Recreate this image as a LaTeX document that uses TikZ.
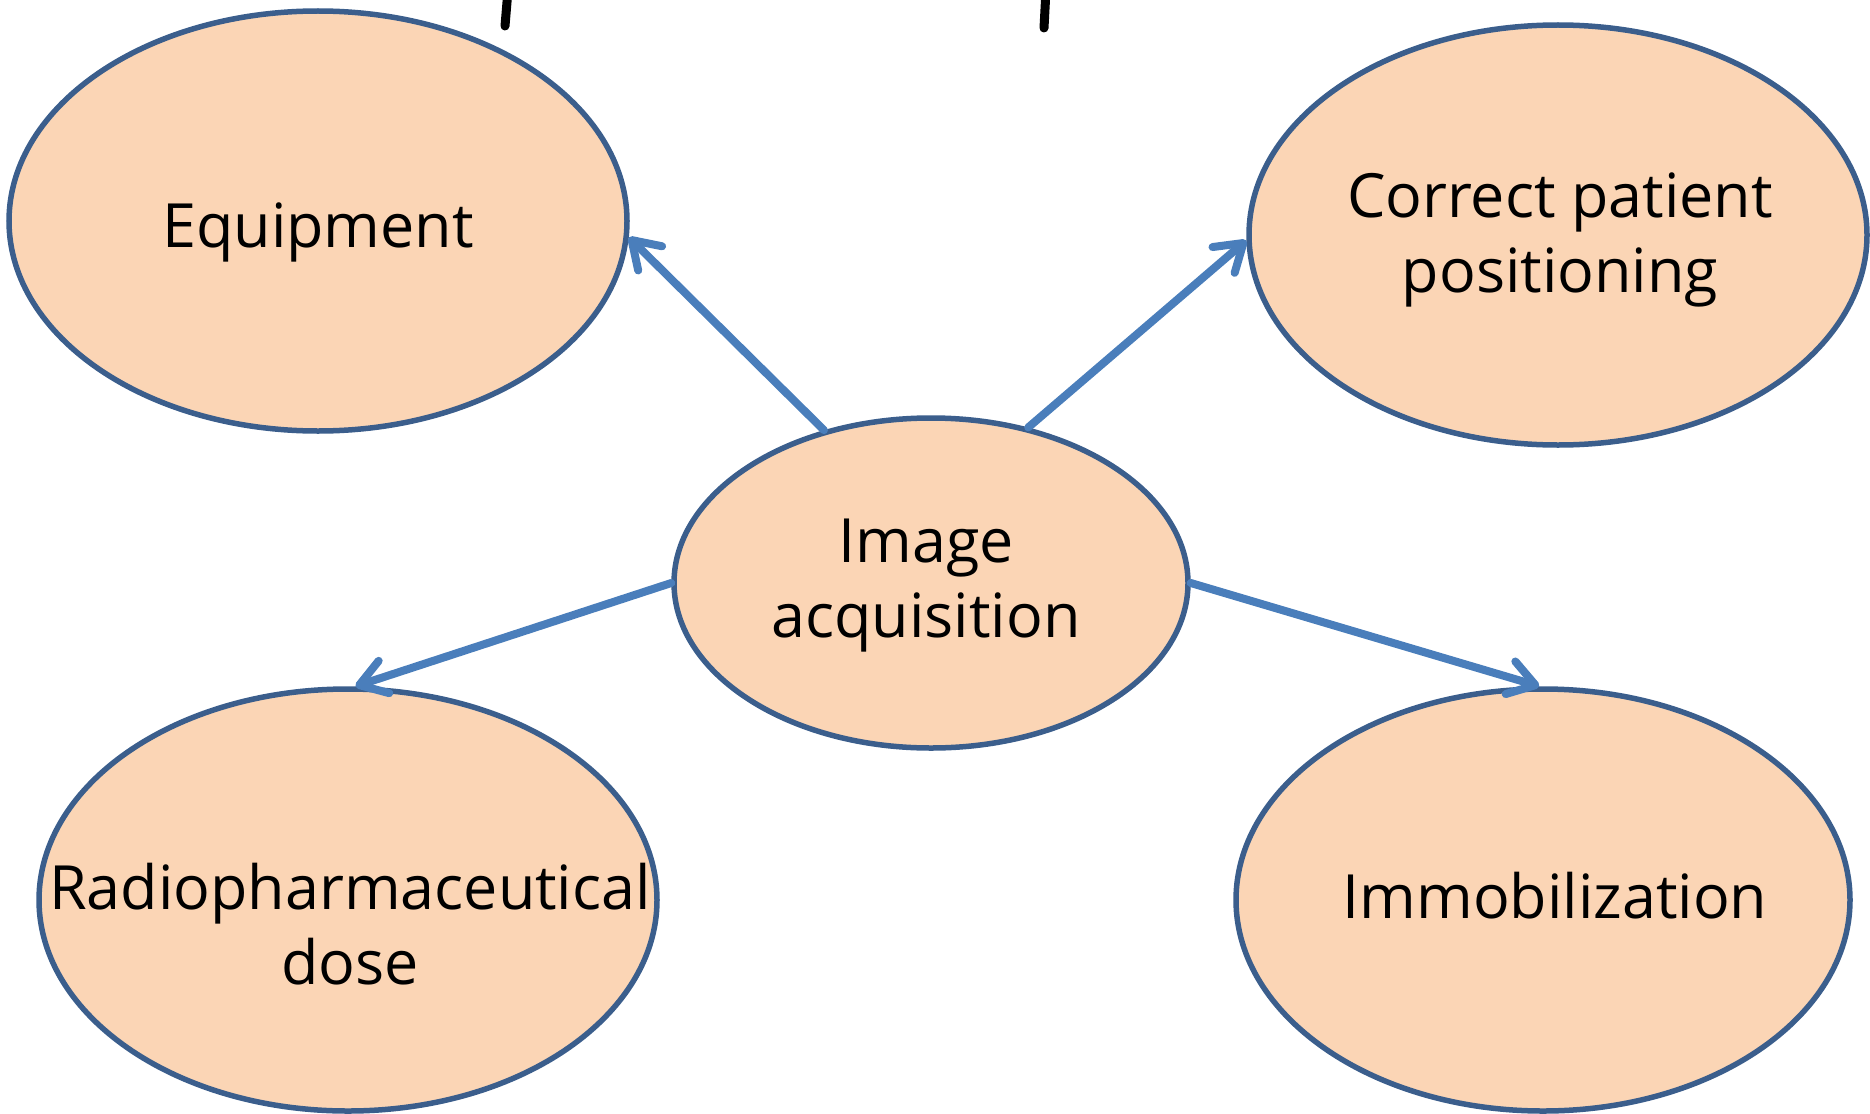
\documentclass[tikz,border=0pt]{standalone}
\usepackage{fontspec}
\setmainfont{Open Sans}
\usetikzlibrary{shapes.geometric,arrows.meta}
\definecolor{ellfill}{HTML}{FBD5B5}
\definecolor{ellline}{HTML}{3B5E8C}
\definecolor{arrblue}{HTML}{4A7EBB}
\tikzset{
  bubble/.style={ellipse, draw=ellline, fill=ellfill, line width=5.5pt, inner sep=0pt,
    align=center, font=\fontsize{61}{75}\selectfont},
  txt/.style={align=center, font=\fontsize{61}{75}\selectfont},
  link/.style={draw=arrblue, line width=8pt, line cap=round,
    -{Straight Barb[length=26pt,width=34pt,line width=8pt,round]}},
  penstroke/.style={line width=9pt, line cap=round, black}
}
\begin{document}
\begin{tikzpicture}[x=1pt,y=-1pt]
\useasboundingbox (0,0) rectangle (1870,1113);
% remnants of the cut-off title
\coordinate (t1a) at (508,-10); \coordinate (t1b) at (505,26);
\coordinate (t2a) at (1046,-10); \coordinate (t2b) at (1044,28);
\draw[penstroke] (t1a) -- (t1b);
\draw[penstroke] (t2a) -- (t2b);
% bubbles
\node[bubble, minimum width=618pt, minimum height=420pt] (eq) at (318,221) {};
\node[txt] (eqt) at (318,232) {Equipment};
\node[bubble, minimum width=618pt, minimum height=420pt] (pos) at (1558,235) {};
\node[txt] (post) at (1560,240) {Correct patient\\positioning};
\node[bubble, minimum width=514pt, minimum height=330pt] (img) at (931,583) {};
\node[txt] (imgt) at (926,586) {Image\\acquisition};
\node[bubble, minimum width=618pt, minimum height=422pt] (rad) at (348,900) {};
\node[txt] (radt) at (350,924) {Radiopharmaceutical\\dose};
\node[bubble, minimum width=614pt, minimum height=422pt] (imm) at (1543,900) {};
\node[txt] (immt) at (1555,896) {Immobilization};
% connectors
\draw[link] (img.125) -- (eq.-3);
\draw[link] (img.58) -- (pos.181);
\draw[link] (img.180) -- (rad.88);
\draw[link] (img.0) -- (imm.91);
\end{tikzpicture}
\end{document}
